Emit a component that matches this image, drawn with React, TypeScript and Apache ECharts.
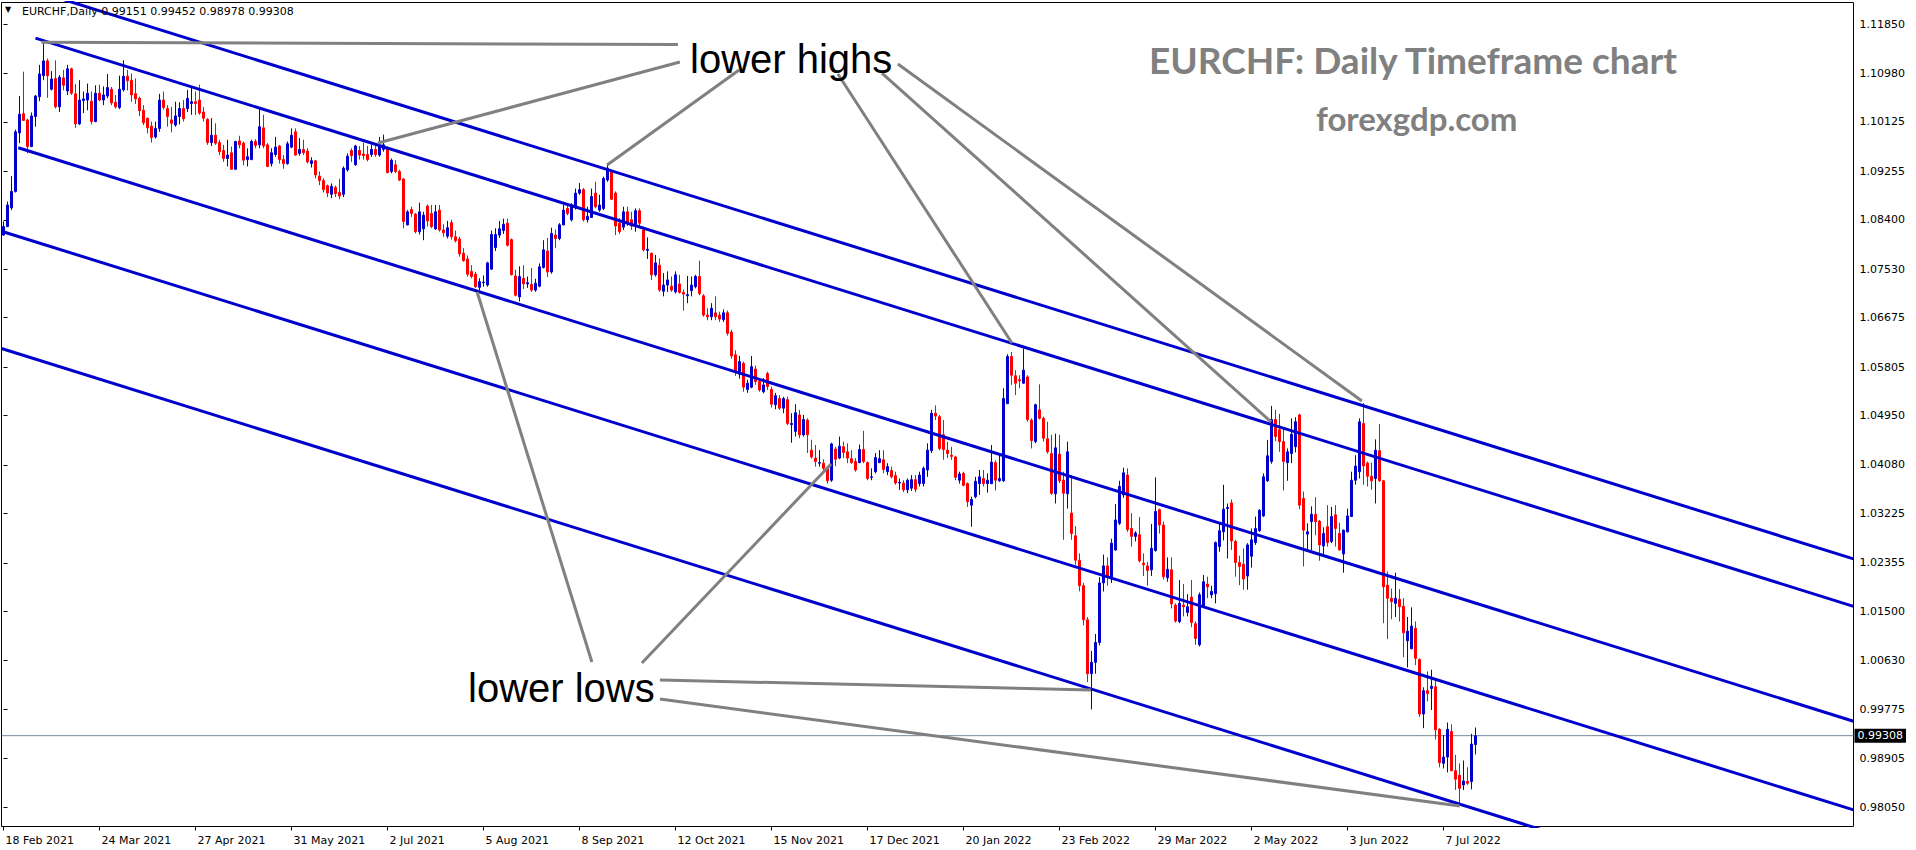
import React, { useEffect, useRef } from "react";
import * as echarts from "echarts";

const symbolName = "EURCHF";
const timeframe = "Daily";
const firstDate = "2021-02-18";
const slotCount = 463;
const labelEvery = 24;
const MONTHS = ["Jan", "Feb", "Mar", "Apr", "May", "Jun", "Jul", "Aug", "Sep", "Oct", "Nov", "Dec"];

const yTickLabels = [
  "1.11850", "1.10980", "1.10125", "1.09255", "1.08400", "1.07530", "1.06675", "1.05805", "1.04950",
  "1.04080", "1.03225", "1.02355", "1.01500", "1.00630", "0.99775", "0.98905", "0.98050",
];

// [open, close, low, high]
const candles: number[][] = [
  // 0
  [1.0813, 1.0828, 1.0812, 1.0837], [1.0828, 1.0866, 1.0827, 1.0872], [1.0861, 1.089, 1.0857, 1.0917], [1.089, 1.0995, 1.0888, 1.0999], [1.0993, 1.1026, 1.0975, 1.1058],
  [1.1027, 1.1015, 1.1014, 1.1101], [1.1016, 1.0969, 1.0957, 1.1018], [1.0969, 1.1023, 1.0968, 1.1029], [1.1022, 1.1058, 1.1004, 1.106], [1.1057, 1.1097, 1.1049, 1.1113],
  // 10
  [1.1094, 1.112, 1.1086, 1.1155], [1.112, 1.1094, 1.1055, 1.1124], [1.107, 1.1088, 1.1068, 1.1102], [1.1089, 1.1039, 1.1036, 1.1121], [1.1039, 1.1091, 1.103, 1.1095],
  [1.109, 1.1077, 1.1068, 1.1104], [1.1067, 1.1106, 1.106, 1.1113], [1.1106, 1.1063, 1.106, 1.1108], [1.1062, 1.1009, 1.1002, 1.1079], [1.1009, 1.1051, 1.1007, 1.1086],
  // 20
  [1.105, 1.1053, 1.1028, 1.1066], [1.1051, 1.1063, 1.1033, 1.108], [1.1049, 1.1013, 1.1008, 1.1066], [1.1013, 1.1063, 1.1012, 1.1077], [1.1063, 1.1051, 1.1049, 1.1078],
  [1.1051, 1.106, 1.1042, 1.1075], [1.1058, 1.1073, 1.1054, 1.1097], [1.107, 1.1046, 1.1042, 1.1074], [1.1047, 1.1039, 1.1036, 1.106], [1.1038, 1.107, 1.1035, 1.1094],
  // 30
  [1.1069, 1.1093, 1.1066, 1.1121], [1.1093, 1.1085, 1.1068, 1.1104], [1.1086, 1.106, 1.1048, 1.1098], [1.1062, 1.1053, 1.1044, 1.1089], [1.1054, 1.1032, 1.1023, 1.1057],
  [1.1033, 1.1011, 1.1007, 1.1042], [1.1019, 1.1002, 1.0992, 1.102], [1.1005, 1.0985, 1.0976, 1.1013], [1.0986, 1.1001, 1.0983, 1.1013], [1.1001, 1.1051, 1.0995, 1.1062],
  // 40
  [1.1051, 1.1038, 1.1034, 1.1066], [1.1036, 1.1022, 1.1004, 1.1042], [1.1016, 1.101, 1.0994, 1.1039], [1.1007, 1.1023, 1.1004, 1.1048], [1.1022, 1.1036, 1.1008, 1.1047],
  [1.1036, 1.1018, 1.1013, 1.1051], [1.1036, 1.1054, 1.103, 1.1069], [1.1045, 1.1048, 1.1025, 1.1073], [1.1048, 1.1045, 1.1025, 1.1066], [1.1051, 1.1028, 1.1025, 1.1078],
  // 50
  [1.103, 1.1019, 1.1013, 1.1039], [1.1017, 1.0976, 1.0972, 1.1019], [1.0976, 1.0989, 1.097, 1.1019], [1.0989, 1.0975, 1.0972, 1.101], [1.0976, 1.096, 1.0954, 1.0981],
  [1.0962, 1.0948, 1.0942, 1.0972], [1.0948, 1.0954, 1.0934, 1.0981], [1.0958, 1.0929, 1.0928, 1.0969], [1.0929, 1.0978, 1.0928, 1.0979], [1.0979, 1.0972, 1.0966, 1.0988],
  // 60
  [1.0975, 1.0945, 1.0936, 1.0978], [1.0946, 1.0951, 1.0934, 1.0966], [1.0946, 1.0978, 1.0945, 1.0981], [1.0978, 1.0971, 1.0966, 1.0982], [1.0972, 1.1004, 1.0966, 1.1036],
  [1.1002, 1.097, 1.0966, 1.1025], [1.0972, 1.0934, 1.0933, 1.0975], [1.0939, 1.0958, 1.0934, 1.0966], [1.0955, 1.0968, 1.0951, 1.0986], [1.097, 1.0946, 1.0939, 1.0972],
  // 70
  [1.0946, 1.0939, 1.093, 1.0954], [1.0939, 1.0974, 1.0937, 1.0978], [1.0968, 1.0989, 1.0966, 1.1001], [1.0995, 1.0954, 1.0953, 1.1001], [1.0957, 1.0964, 1.0953, 1.0984],
  [1.0964, 1.0958, 1.0954, 1.0981], [1.0961, 1.0942, 1.0939, 1.0966], [1.0939, 1.0944, 1.0932, 1.095], [1.0944, 1.0919, 1.0913, 1.0945], [1.0917, 1.0909, 1.0901, 1.0925],
  // 80
  [1.0909, 1.0893, 1.0888, 1.0913], [1.09, 1.0887, 1.088, 1.0902], [1.0885, 1.0899, 1.0878, 1.0904], [1.0897, 1.0886, 1.088, 1.09], [1.0888, 1.0882, 1.0876, 1.0912],
  [1.0885, 1.0931, 1.088, 1.0934], [1.0928, 1.0952, 1.0925, 1.0957], [1.0962, 1.0953, 1.0942, 1.0966], [1.0937, 1.097, 1.0935, 1.0972], [1.0962, 1.0954, 1.0946, 1.097],
  // 90
  [1.0956, 1.0953, 1.0946, 1.0976], [1.0955, 1.0946, 1.0943, 1.097], [1.0955, 1.0964, 1.0951, 1.0972], [1.0964, 1.0955, 1.0951, 1.0972], [1.0954, 1.0969, 1.0951, 1.0986],
  [1.0964, 1.0972, 1.096, 1.099], [1.0966, 1.0923, 1.0922, 1.0969], [1.0925, 1.0945, 1.0922, 1.0948], [1.0937, 1.0925, 1.0922, 1.0945], [1.0925, 1.091, 1.0908, 1.0928],
  // 100
  [1.0912, 1.0837, 1.0825, 1.0913], [1.0831, 1.0854, 1.083, 1.0857], [1.0858, 1.0851, 1.0845, 1.0863], [1.085, 1.0819, 1.0816, 1.0852], [1.0819, 1.0854, 1.0814, 1.087],
  [1.0824, 1.0848, 1.0804, 1.0854], [1.0864, 1.0838, 1.0828, 1.0867], [1.0851, 1.0828, 1.0825, 1.0866], [1.0824, 1.0854, 1.0822, 1.0866], [1.0857, 1.0822, 1.0819, 1.0866],
  // 110
  [1.0822, 1.0817, 1.081, 1.0832], [1.0811, 1.0826, 1.0807, 1.0838], [1.0835, 1.081, 1.0805, 1.084], [1.081, 1.0803, 1.08, 1.0821], [1.0806, 1.078, 1.0775, 1.081],
  [1.0781, 1.0768, 1.0766, 1.079], [1.0771, 1.0744, 1.074, 1.0777], [1.0749, 1.074, 1.0737, 1.076], [1.0744, 1.0722, 1.072, 1.0748], [1.0721, 1.0731, 1.0716, 1.0737],
  // 120
  [1.0729, 1.073, 1.0722, 1.0742], [1.0725, 1.0764, 1.0722, 1.0766], [1.0753, 1.0814, 1.0752, 1.0821], [1.0791, 1.0814, 1.0785, 1.0825], [1.0813, 1.0824, 1.0808, 1.0838],
  [1.0821, 1.0832, 1.0815, 1.0842], [1.0834, 1.0795, 1.0793, 1.0842], [1.0805, 1.0743, 1.0742, 1.0807], [1.0741, 1.0707, 1.0705, 1.0752], [1.0704, 1.074, 1.0696, 1.0758],
  // 130
  [1.0737, 1.0727, 1.0718, 1.076], [1.0727, 1.0729, 1.072, 1.074], [1.0726, 1.0716, 1.0713, 1.0755], [1.0716, 1.0728, 1.0713, 1.0736], [1.0723, 1.0757, 1.0721, 1.0763],
  [1.0756, 1.0787, 1.0754, 1.0804], [1.0785, 1.0748, 1.0739, 1.0808], [1.0748, 1.0816, 1.0745, 1.0826], [1.0813, 1.0807, 1.079, 1.0823], [1.0807, 1.0831, 1.0804, 1.0834],
  // 140
  [1.0831, 1.0857, 1.083, 1.0866], [1.086, 1.0851, 1.0848, 1.0869], [1.084, 1.0866, 1.0837, 1.0869], [1.0862, 1.0887, 1.0858, 1.0895], [1.0887, 1.0893, 1.0884, 1.0905],
  [1.0893, 1.084, 1.0837, 1.0896], [1.084, 1.0846, 1.0835, 1.0863], [1.0844, 1.0881, 1.0843, 1.0895], [1.0887, 1.0863, 1.086, 1.0907], [1.0857, 1.0866, 1.0854, 1.0884],
  // 150
  [1.086, 1.0913, 1.0857, 1.0916], [1.091, 1.0931, 1.0907, 1.0939], [1.0925, 1.0876, 1.0875, 1.0928], [1.0887, 1.0829, 1.0813, 1.089], [1.0834, 1.0819, 1.0815, 1.0843],
  [1.0827, 1.0854, 1.0822, 1.0863], [1.0854, 1.0834, 1.0829, 1.0863], [1.084, 1.0829, 1.0822, 1.0854], [1.0829, 1.0856, 1.0819, 1.086], [1.0856, 1.0834, 1.0829, 1.086],
  // 160
  [1.0822, 1.0787, 1.0784, 1.0828], [1.0786, 1.0788, 1.0771, 1.0809], [1.0781, 1.0743, 1.0734, 1.0782], [1.0743, 1.0764, 1.074, 1.0778], [1.076, 1.0716, 1.0713, 1.0772],
  [1.0714, 1.0725, 1.0705, 1.0746], [1.0725, 1.0734, 1.0713, 1.0749], [1.0723, 1.0716, 1.0713, 1.074], [1.0713, 1.0743, 1.071, 1.0749], [1.0727, 1.0712, 1.071, 1.0743],
  // 170
  [1.0712, 1.0709, 1.068, 1.0717], [1.0706, 1.0708, 1.0693, 1.0741], [1.0715, 1.0725, 1.0705, 1.074], [1.0722, 1.074, 1.0719, 1.0743], [1.074, 1.071, 1.0707, 1.0768],
  [1.0706, 1.0672, 1.0669, 1.0709], [1.0672, 1.0669, 1.0663, 1.0684], [1.0669, 1.0684, 1.0663, 1.0693], [1.0676, 1.0669, 1.0663, 1.0705], [1.0672, 1.0665, 1.066, 1.0678],
  // 180
  [1.0664, 1.0676, 1.066, 1.0682], [1.0676, 1.064, 1.0636, 1.068], [1.0642, 1.06, 1.0595, 1.0646], [1.0602, 1.0572, 1.0565, 1.061], [1.0568, 1.059, 1.056, 1.06],
  [1.0587, 1.0545, 1.0537, 1.059], [1.0541, 1.0552, 1.0535, 1.0558], [1.0545, 1.0581, 1.0543, 1.06], [1.0577, 1.0555, 1.0549, 1.0583], [1.0555, 1.054, 1.0537, 1.0557],
  // 190
  [1.0537, 1.0549, 1.0534, 1.0561], [1.0569, 1.0546, 1.054, 1.0572], [1.0541, 1.0515, 1.0509, 1.0546], [1.0514, 1.053, 1.0506, 1.0535], [1.0525, 1.0508, 1.0505, 1.0531],
  [1.0508, 1.0525, 1.0499, 1.0528], [1.0523, 1.0481, 1.0478, 1.0528], [1.0479, 1.0481, 1.0447, 1.0499], [1.0467, 1.05, 1.0458, 1.0515], [1.0496, 1.0461, 1.0455, 1.0505],
  // 200
  [1.0461, 1.0488, 1.0458, 1.0496], [1.0487, 1.0461, 1.0429, 1.049], [1.0434, 1.0422, 1.0419, 1.0452], [1.042, 1.0414, 1.0405, 1.0443], [1.0411, 1.0412, 1.0405, 1.0434],
  [1.0411, 1.0402, 1.0399, 1.0418], [1.0402, 1.038, 1.0375, 1.0405], [1.0381, 1.0445, 1.0378, 1.0447], [1.0436, 1.0418, 1.0406, 1.044], [1.042, 1.0441, 1.0418, 1.0458],
  // 210
  [1.044, 1.043, 1.042, 1.0449], [1.0431, 1.042, 1.0411, 1.0446], [1.0419, 1.0412, 1.041, 1.0434], [1.0414, 1.0399, 1.0396, 1.042], [1.0412, 1.0435, 1.0411, 1.0444],
  [1.0435, 1.0414, 1.0411, 1.0468], [1.0412, 1.0384, 1.0381, 1.0414], [1.0386, 1.0387, 1.0381, 1.0402], [1.0396, 1.0421, 1.0393, 1.0429], [1.0412, 1.0419, 1.0411, 1.0434],
  // 220
  [1.0417, 1.04, 1.0393, 1.0434], [1.0396, 1.0405, 1.039, 1.0411], [1.0398, 1.0387, 1.0384, 1.0405], [1.0389, 1.0376, 1.0373, 1.0396], [1.0376, 1.0377, 1.0364, 1.0384],
  [1.0376, 1.0364, 1.036, 1.0381], [1.0364, 1.0381, 1.0358, 1.0384], [1.0367, 1.0382, 1.0362, 1.039], [1.0382, 1.0365, 1.036, 1.039], [1.0375, 1.039, 1.037, 1.0396],
  // 230
  [1.0375, 1.0402, 1.037, 1.0405], [1.0399, 1.0434, 1.0387, 1.0446], [1.0433, 1.0499, 1.0429, 1.0505], [1.0499, 1.0494, 1.0487, 1.0513], [1.0493, 1.0437, 1.0434, 1.0496],
  [1.0461, 1.0435, 1.0417, 1.0487], [1.0434, 1.0428, 1.042, 1.0449], [1.0425, 1.0423, 1.0417, 1.044], [1.0422, 1.0386, 1.0381, 1.0424], [1.0381, 1.0392, 1.0375, 1.0396],
  // 240
  [1.0393, 1.0372, 1.037, 1.0396], [1.0375, 1.0343, 1.0334, 1.0377], [1.0337, 1.0347, 1.0299, 1.0352], [1.0352, 1.0379, 1.0349, 1.0387], [1.0375, 1.0387, 1.0355, 1.0399],
  [1.0384, 1.0375, 1.037, 1.0399], [1.0375, 1.0381, 1.0359, 1.0393], [1.0375, 1.0413, 1.0374, 1.0443], [1.0412, 1.0381, 1.0363, 1.0416], [1.038, 1.0384, 1.0378, 1.0428],
  // 250
  [1.038, 1.0525, 1.0378, 1.0543], [1.0516, 1.0599, 1.0515, 1.0603], [1.0599, 1.0566, 1.0549, 1.0607], [1.0565, 1.0552, 1.0531, 1.0575], [1.0558, 1.0556, 1.0543, 1.0566],
  [1.0552, 1.0575, 1.0551, 1.0613], [1.0563, 1.0488, 1.0484, 1.0566], [1.0487, 1.0451, 1.0437, 1.049], [1.0449, 1.0514, 1.0446, 1.0516], [1.0505, 1.049, 1.0488, 1.055],
  // 260
  [1.049, 1.0455, 1.0449, 1.0493], [1.0454, 1.0431, 1.0428, 1.0484], [1.0428, 1.0358, 1.0355, 1.0461], [1.0357, 1.0438, 1.034, 1.0463], [1.0427, 1.038, 1.0376, 1.0461],
  [1.0381, 1.0358, 1.0276, 1.0396], [1.0357, 1.0431, 1.0331, 1.0449], [1.0323, 1.0287, 1.0276, 1.039], [1.0283, 1.024, 1.0232, 1.03], [1.024, 1.0195, 1.0185, 1.0252],
  // 270
  [1.0195, 1.0135, 1.0125, 1.02], [1.0135, 1.004, 1.0025, 1.014], [1.004, 1.006, 0.9977, 1.008], [1.006, 1.0095, 1.004, 1.011], [1.0095, 1.02, 1.009, 1.021],
  [1.02, 1.023, 1.0185, 1.025], [1.023, 1.021, 1.0195, 1.0245], [1.0207, 1.027, 1.02, 1.0278], [1.0258, 1.0311, 1.0257, 1.0339], [1.0305, 1.037, 1.0302, 1.038],
  // 280
  [1.0355, 1.0394, 1.035, 1.0403], [1.039, 1.0294, 1.029, 1.0402], [1.0296, 1.0282, 1.0264, 1.0323], [1.0282, 1.0288, 1.0273, 1.0291], [1.0285, 1.0239, 1.0236, 1.0316],
  [1.0235, 1.0232, 1.0212, 1.0252], [1.023, 1.0222, 1.0195, 1.0237], [1.0223, 1.0261, 1.0212, 1.0304], [1.0257, 1.0326, 1.0255, 1.0386], [1.0329, 1.0302, 1.0287, 1.0331],
  // 290
  [1.0302, 1.0211, 1.0206, 1.0308], [1.0209, 1.0224, 1.0202, 1.0245], [1.0223, 1.0163, 1.0155, 1.0245], [1.0161, 1.0133, 1.013, 1.0164], [1.0132, 1.0164, 1.0129, 1.0205],
  [1.0161, 1.0158, 1.0141, 1.0198], [1.0148, 1.0158, 1.0141, 1.018], [1.0175, 1.013, 1.0122, 1.0205], [1.0128, 1.0102, 1.0091, 1.0132], [1.0091, 1.0179, 1.0088, 1.0183],
  // 300
  [1.0158, 1.0202, 1.0157, 1.0214], [1.0198, 1.0193, 1.0173, 1.0211], [1.0179, 1.0185, 1.0173, 1.0195], [1.0181, 1.0271, 1.0164, 1.0273], [1.0264, 1.0292, 1.0255, 1.0306],
  [1.029, 1.033, 1.0275, 1.0373], [1.0331, 1.0333, 1.0243, 1.034], [1.0341, 1.0274, 1.0258, 1.0347], [1.0273, 1.0236, 1.0211, 1.0276], [1.0236, 1.0229, 1.0196, 1.0248],
  // 310
  [1.0233, 1.0207, 1.0188, 1.0261], [1.0212, 1.0267, 1.0188, 1.027], [1.0247, 1.0276, 1.0227, 1.0296], [1.0271, 1.0296, 1.0267, 1.0317], [1.0292, 1.0328, 1.029, 1.033],
  [1.0318, 1.0387, 1.0316, 1.0393], [1.038, 1.0424, 1.0378, 1.0452], [1.0414, 1.0488, 1.041, 1.0512], [1.0488, 1.0458, 1.045, 1.0505], [1.047, 1.0449, 1.0431, 1.0498],
  // 320
  [1.0449, 1.0414, 1.0363, 1.0472], [1.0412, 1.0431, 1.038, 1.0437], [1.0428, 1.0462, 1.0411, 1.049], [1.044, 1.0484, 1.043, 1.0492], [1.0496, 1.0337, 1.033, 1.0498],
  [1.0349, 1.0293, 1.0229, 1.0361], [1.0286, 1.029, 1.0258, 1.0305], [1.0308, 1.0321, 1.0258, 1.0335], [1.0321, 1.0308, 1.0284, 1.0351], [1.0309, 1.0267, 1.0239, 1.0311],
  // 330
  [1.0265, 1.0287, 1.0246, 1.0298], [1.0299, 1.0271, 1.0264, 1.0337], [1.0273, 1.0317, 1.027, 1.0334], [1.032, 1.0296, 1.0264, 1.0337], [1.0287, 1.0258, 1.0257, 1.0306],
  [1.0251, 1.0293, 1.0218, 1.0294], [1.029, 1.0318, 1.0289, 1.0331], [1.0317, 1.0381, 1.0316, 1.0396], [1.0381, 1.0406, 1.0373, 1.0425], [1.0396, 1.0484, 1.0384, 1.049],
  // 340
  [1.0481, 1.0406, 1.0373, 1.0517], [1.0411, 1.0388, 1.037, 1.0414], [1.0388, 1.038, 1.0364, 1.0412], [1.0384, 1.0434, 1.034, 1.0453], [1.0433, 1.038, 1.0378, 1.048],
  [1.038, 1.0193, 1.0129, 1.0381], [1.0196, 1.0173, 1.0101, 1.022], [1.0173, 1.0167, 1.0136, 1.019], [1.0164, 1.0173, 1.014, 1.0218], [1.0171, 1.0158, 1.0132, 1.0189],
  // 350
  [1.0159, 1.0112, 1.0069, 1.0173], [1.0098, 1.0115, 1.0051, 1.014], [1.0084, 1.0124, 1.0083, 1.0157], [1.012, 1.0067, 1.0055, 1.0132], [1.0065, 0.9969, 0.9964, 1.0067],
  [0.9969, 1.001, 0.9944, 1.0016], [1.001, 1.0005, 0.9991, 1.0044], [1.0014, 1.0018, 0.9976, 1.0047], [1.0017, 0.9941, 0.9924, 1.0032], [0.9942, 0.9883, 0.9875, 0.9944],
  // 360
  [0.9882, 0.9893, 0.9873, 0.9932], [0.9893, 0.9942, 0.9866, 0.9954], [0.9938, 0.9869, 0.9868, 0.9951], [0.9869, 0.9854, 0.9835, 0.9897], [0.9861, 0.9838, 0.9812, 0.9882],
  [0.9844, 0.9851, 0.9835, 0.9887], [0.985, 0.9847, 0.9844, 0.9875], [0.985, 0.9916, 0.9836, 0.9934], [0.99151, 0.99308, 0.98978, 0.99452],
];

// Parallel channel lines: [barIndex, price] end points
const channelLines: number[][][] = [
  [[-0.5, 1.12622], [462.5, 1.02423]],
  [[8, 1.11601], [462.5, 1.01587]],
  [[3.7, 1.0967], [462.5, 0.99562]],
  [[-0.5, 1.08198], [462.5, 0.97999]],
  [[-0.5, 1.06131], [462.5, 0.95932]],
];

// Grey annotation pointers: [barIndex, price] end points
const noteLines: number[][][] = [
  [[9.5, 1.11527], [168.6, 1.11487]],
  [[93.6, 1.09753], [169.1, 1.1118]],
  [[150.9, 1.09365], [183.9, 1.11039]],
  [[208.6, 1.10969], [252.1, 1.06228]],
  [[219.6, 1.10986], [316.9, 1.04836]],
  [[223.6, 1.11145], [339.6, 1.05206]],
  [[147.1, 1.00606], [118.4, 1.07127]],
  [[159.6, 1.00588], [206.9, 1.04095]],
  [[164.1, 1.00289], [271.9, 1.00112]],
  [[164.1, 0.99954], [364.1, 0.98068]],
];

const titleText = "EURCHF: Daily Timeframe chart";
const siteText = "forexgdp.com";
const highsText = "lower highs";
const lowsText = "lower lows";

const FONT = "DejaVu Sans";
const BULL = "#0000CD";
const BEAR = "#FF0000";
const CHANNEL = "#0000CD";
const NOTE = "#808080";
const PRICE_LINE = "#778899";

function buildDates(start: string, n: number): string[] {
  const out: string[] = [];
  const d = new Date(start + "T00:00:00Z");
  while (out.length < n) {
    const wd = d.getUTCDay();
    if (wd !== 0 && wd !== 6) {
      out.push(`${d.getUTCDate()} ${MONTHS[d.getUTCMonth()]} ${d.getUTCFullYear()}`);
    }
    d.setUTCDate(d.getUTCDate() + 1);
  }
  return out;
}

export default function App() {
  const ref = useRef<HTMLDivElement>(null);

  useEffect(() => {
    document.body.style.margin = "0";
    if (!ref.current) return;
    const chart = echarts.init(ref.current, undefined, { renderer: "svg" });
    const dates = buildDates(firstDate, slotCount);
    const lastIdx = candles.length - 1;
    const last = candles[lastIdx];
    const lastClose = last[1];
    const showIdx = (index: number) => index % labelEvery === 0 && index <= lastIdx;
    const yTickValues = yTickLabels.map(Number);

    const lineSeries = (pts: number[][], color: string) => ({
      type: "line",
      xAxisIndex: 1,
      yAxisIndex: 0,
      data: pts,
      symbol: "none",
      silent: true,
      clip: true,
      z: 5,
      lineStyle: { color, width: 3 },
    });

    const option: any = {
      animation: false,
      backgroundColor: "#ffffff",
      grid: {
        left: 1.5,
        right: 62.5,
        top: 2.5,
        bottom: 23.5,
        show: true,
        borderColor: "#000",
        borderWidth: 1,
        backgroundColor: "transparent",
      },
      xAxis: [
        {
          type: "category",
          data: dates,
          boundaryGap: true,
          axisLine: { show: false },
          axisTick: { show: true, alignWithLabel: true, length: 4, interval: showIdx, lineStyle: { color: "#000" } },
          axisLabel: {
            interval: showIdx,
            align: "left",
            margin: 8,
            fontSize: 11,
            fontFamily: FONT,
            color: "#000",
            padding: [0, 0, 0, 2],
          },
          splitLine: { show: false },
        },
        { type: "value", min: -0.5, max: slotCount - 0.5, show: false },
      ],
      yAxis: {
        type: "value",
        position: "right",
        min: 0.97707,
        max: 1.12229,
        splitLine: { show: false },
        axisLine: { show: false },
        axisTick: { show: true, length: 4, customValues: yTickValues, lineStyle: { color: "#000" } },
        axisLabel: {
          customValues: yTickValues,
          formatter: (v: number) => v.toFixed(5),
          margin: 6,
          fontSize: 11,
          fontFamily: FONT,
          color: "#000",
        },
      },
      series: [
        {
          type: "line",
          xAxisIndex: 1,
          yAxisIndex: 0,
          data: [[-0.5, lastClose], [slotCount - 0.5, lastClose]],
          symbol: "none",
          silent: true,
          z: 1,
          lineStyle: { color: PRICE_LINE, width: 1 },
          endLabel: {
            show: true,
            distance: 1,
            formatter: () => lastClose.toFixed(5),
            backgroundColor: "#000",
            color: "#fff",
            padding: [2, 3, 1, 3],
            fontSize: 11,
            fontFamily: FONT,
          },
        },
        {
          type: "candlestick",
          xAxisIndex: 0,
          yAxisIndex: 0,
          data: candles,
          barWidth: 2,
          z: 2,
          itemStyle: {
            color: BULL,
            color0: BEAR,
            borderColor: BULL,
            borderColor0: BEAR,
            borderWidth: 1,
          },
        },
        ...channelLines.map((pts) => lineSeries(pts, CHANNEL)),
        ...noteLines.map((pts) => lineSeries(pts, NOTE)),
      ],
      graphic: [
        {
          type: "text",
          left: 5,
          top: 5,
          z: 10,
          style: { text: "▼", fontSize: 8, fontFamily: FONT, fill: "#000" },
        },
        {
          type: "text",
          x: 22,
          y: 11,
          z: 10,
          style: {
            text: `${symbolName},${timeframe} ${last[0].toFixed(5)} ${last[3].toFixed(5)} ${last[2].toFixed(5)} ${last[1].toFixed(5)}`,
            fontSize: 11,
            fontFamily: FONT,
            fill: "#000",
            verticalAlign: "middle",
          },
        },
        {
          type: "text",
          x: 1149,
          y: 59,
          z: 10,
          style: { text: titleText, fontSize: 37, fontWeight: "bold", fontFamily: "Lato", fill: "#808080", verticalAlign: "middle" },
        },
        {
          type: "text",
          x: 1316,
          y: 118,
          z: 10,
          style: { text: siteText, fontSize: 33, fontWeight: "bold", fontFamily: "Lato", fill: "#808080", verticalAlign: "middle" },
        },
        {
          type: "text",
          x: 690,
          y: 59,
          z: 10,
          style: { text: highsText, fontSize: 40, fontFamily: "Liberation Sans", fill: "#000", verticalAlign: "middle" },
        },
        {
          type: "text",
          x: 468,
          y: 688,
          z: 10,
          style: { text: lowsText, fontSize: 40, fontFamily: "Liberation Sans", fill: "#000", verticalAlign: "middle" },
        },
      ],
    };

    chart.setOption(option);
    return () => chart.dispose();
  }, []);

  return <div ref={ref} style={{ width: 1916, height: 850 }} />;
}
